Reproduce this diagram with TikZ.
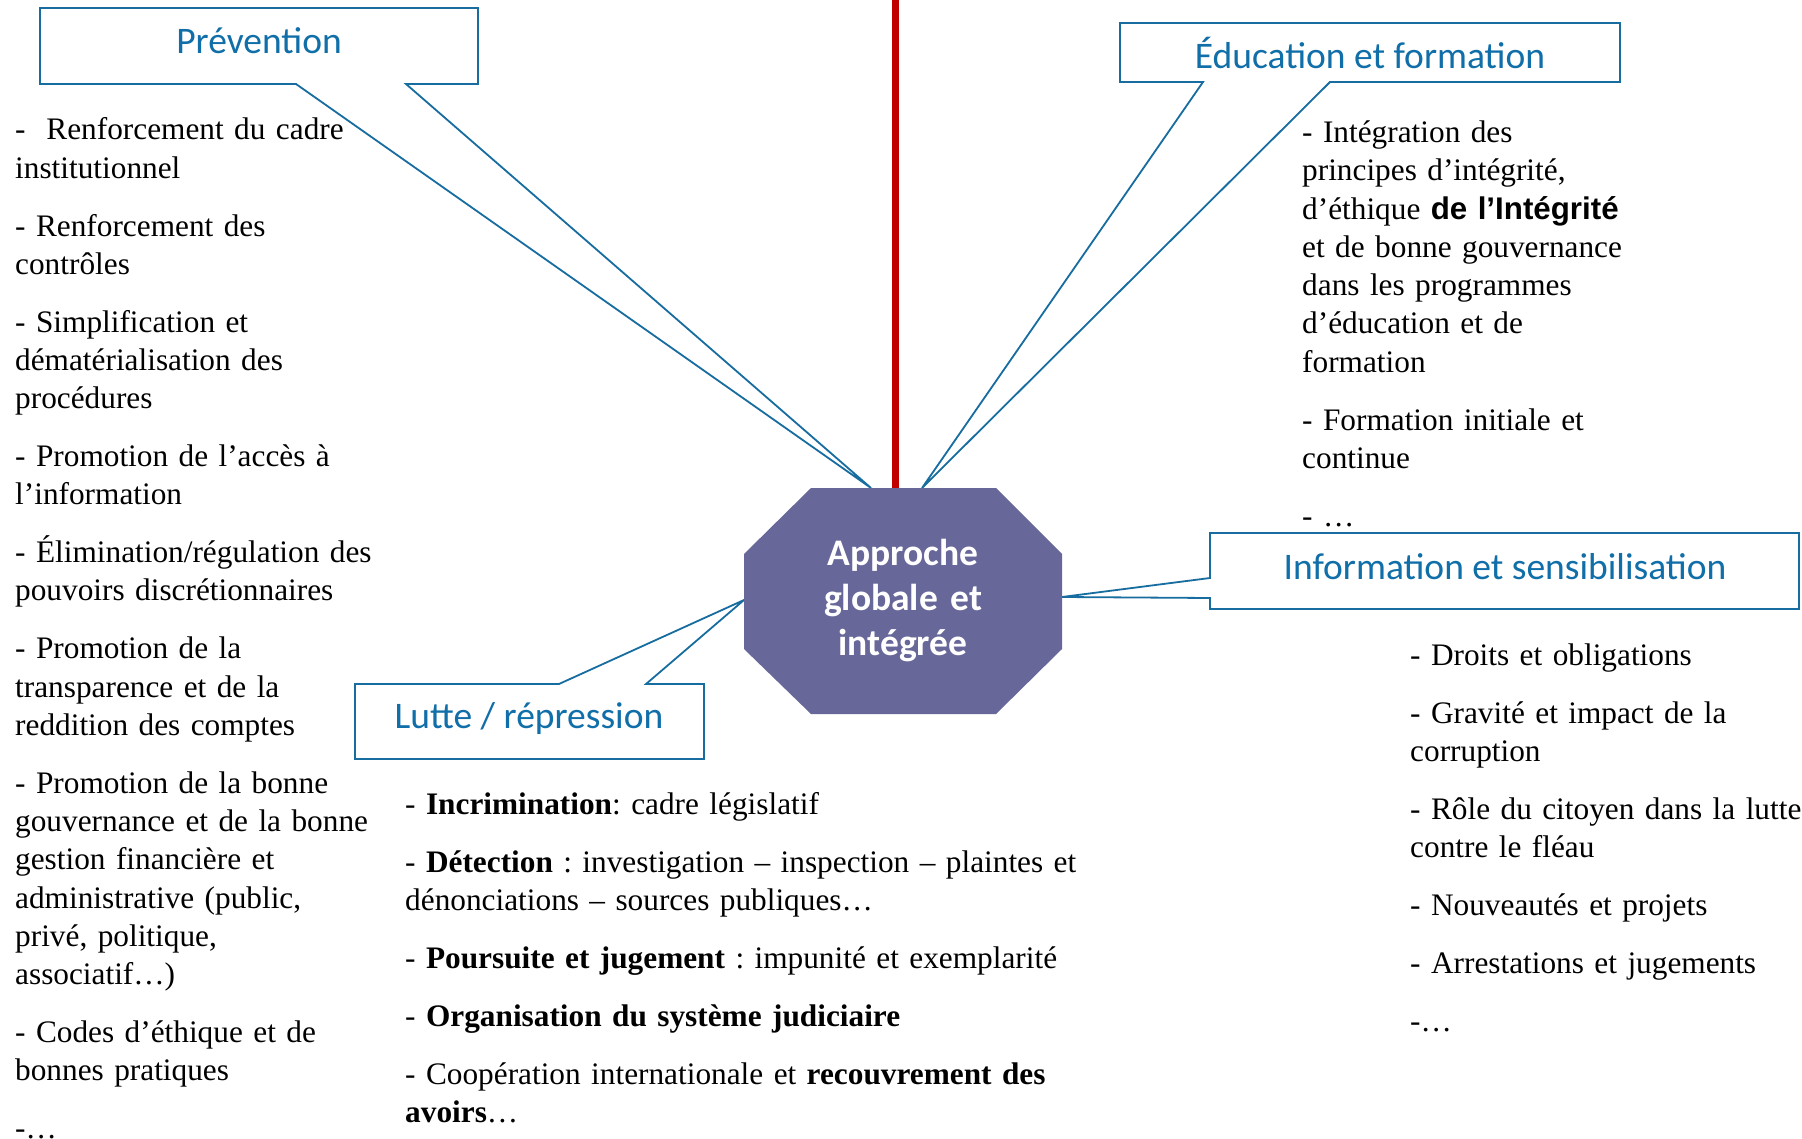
\documentclass[tikz,border=0pt]{standalone}
\usepackage{fontspec}
\setmainfont{Liberation Serif}
\newfontfamily\calibri{Carlito}
\newfontfamily\arialf{Liberation Sans}
\definecolor{cblue}{RGB}{23,108,160}
\definecolor{tblue}{RGB}{16,110,168}
\definecolor{octo}{RGB}{103,103,153}
\definecolor{cred}{RGB}{192,0,0}
\begin{document}
\begin{tikzpicture}[x=1pt,y=-1pt]
\tikzset{
  callout/.style={draw=cblue, line width=1.8pt, line join=miter, fill=white},
  titlebox/.style={font=\calibri\fontsize{37.5}{45}\selectfont, text=tblue, anchor=base, inner sep=0},
  body/.style={anchor=base west, inner sep=0, text width=700pt, align=left, font=\fontsize{31.3}{38.3}\selectfont\frenchspacing},
  coretext/.style={anchor=base, inner sep=0, text width=300pt, align=center, text=white, font=\calibri\bfseries\fontsize{37.5}{45}\selectfont},
  redline/.style={draw=cred, line width=7pt}
}
\useasboundingbox (0,0) rectangle (1802,1139);
\fill[white] (0,0) rectangle (1802,1139);

% key coordinates
\coordinate (redtop) at (895,0);
\coordinate (octtop) at (895,488);
\coordinate (tipP) at (871,488);
\coordinate (tipE) at (922,488);
\coordinate (tipL) at (744,600);
\coordinate (tipI) at (1062,597);

% red line
\draw[redline] (redtop) -- (octtop);

% callouts
\draw[callout] (40,8) -- (478,8) -- (478,84) -- (406,84) -- (tipP) -- (296,84) -- (40,84) -- cycle;
\draw[callout] (1120,23) -- (1620,23) -- (1620,82) -- (1330,82) -- (tipE) -- (1203,82) -- (1120,82) -- cycle;
\draw[callout] (355,684) -- (559,684) -- (tipL) -- (646,684) -- (704,684) -- (704,759) -- (355,759) -- cycle;
\draw[callout] (1210,533) -- (1799,533) -- (1799,609) -- (1210,609) -- (1210,598) -- (tipI) -- (1210,578) -- cycle;

% titles
\node[titlebox] (tprev) at (259,54) {Prévention};
\node[titlebox] (tedu) at (1370,69) {Éducation et formation};
\node[titlebox] (tlutte) at (529,728) {Lutte / répression};
\node[titlebox] (tinfo) at (1505,579) {Information et sensibilisation};

% central octagon
\fill[octo] (811,488) -- (996,488) -- (1062,554) -- (1062,649) -- (996,714) -- (811,714) -- (744,649) -- (744,554) -- cycle;
\node[coretext] (core) at (903,565) {Approche\\globale et\\intégrée};

% text columns
\node[body] (prevtext) at (15,140) {%
-\ \ Renforcement du cadre\\
institutionnel\\[19.5pt]
- Renforcement des\\
contrôles\\[19.5pt]
- Simplification et\\
dématérialisation des\\
procédures\\[19.5pt]
- Promotion de l’accès à\\
l’information\\[19.5pt]
- Élimination/régulation des\\
pouvoirs discrétionnaires\\[19.5pt]
- Promotion de la\\
transparence et de la\\
reddition des comptes\\[19.5pt]
- Promotion de la bonne\\
gouvernance et de la bonne\\
gestion financière et\\
administrative (public,\\
privé, politique,\\
associatif…)\\[19.5pt]
- Codes d’éthique et de\\
bonnes pratiques\\[19.5pt]
-…};

\node[body] (edutext) at (1302,142.5) {%
- Intégration des\\
principes d’intégrité,\\
d’éthique {\arialf\bfseries de l’Intégrité}\\
et de bonne gouvernance\\
dans les programmes\\
d’éducation et de\\
formation\\[19.5pt]
- Formation initiale et\\
continue\\[19.5pt]
- …};

\node[body] (luttetext) at (405,814.5) {%
- \textbf{Incrimination}: cadre législatif\\[19.5pt]
- \textbf{Détection} : investigation – inspection – plaintes et\\
dénonciations – sources publiques…\\[19.5pt]
- \textbf{Poursuite et jugement} : impunité et exemplarité\\[19.5pt]
- \textbf{Organisation du système judiciaire}\\[19.5pt]
- Coopération internationale et \textbf{recouvrement des}\\
\textbf{avoirs}…};

\node[body] (infotext) at (1410,665.5) {%
- Droits et obligations\\[19.5pt]
- Gravité et impact de la\\
corruption\\[19.5pt]
- Rôle du citoyen dans la lutte\\
contre le fléau\\[19.5pt]
- Nouveautés et projets\\[19.5pt]
- Arrestations et jugements\\[19.5pt]
-…};
\end{tikzpicture}
\end{document}
